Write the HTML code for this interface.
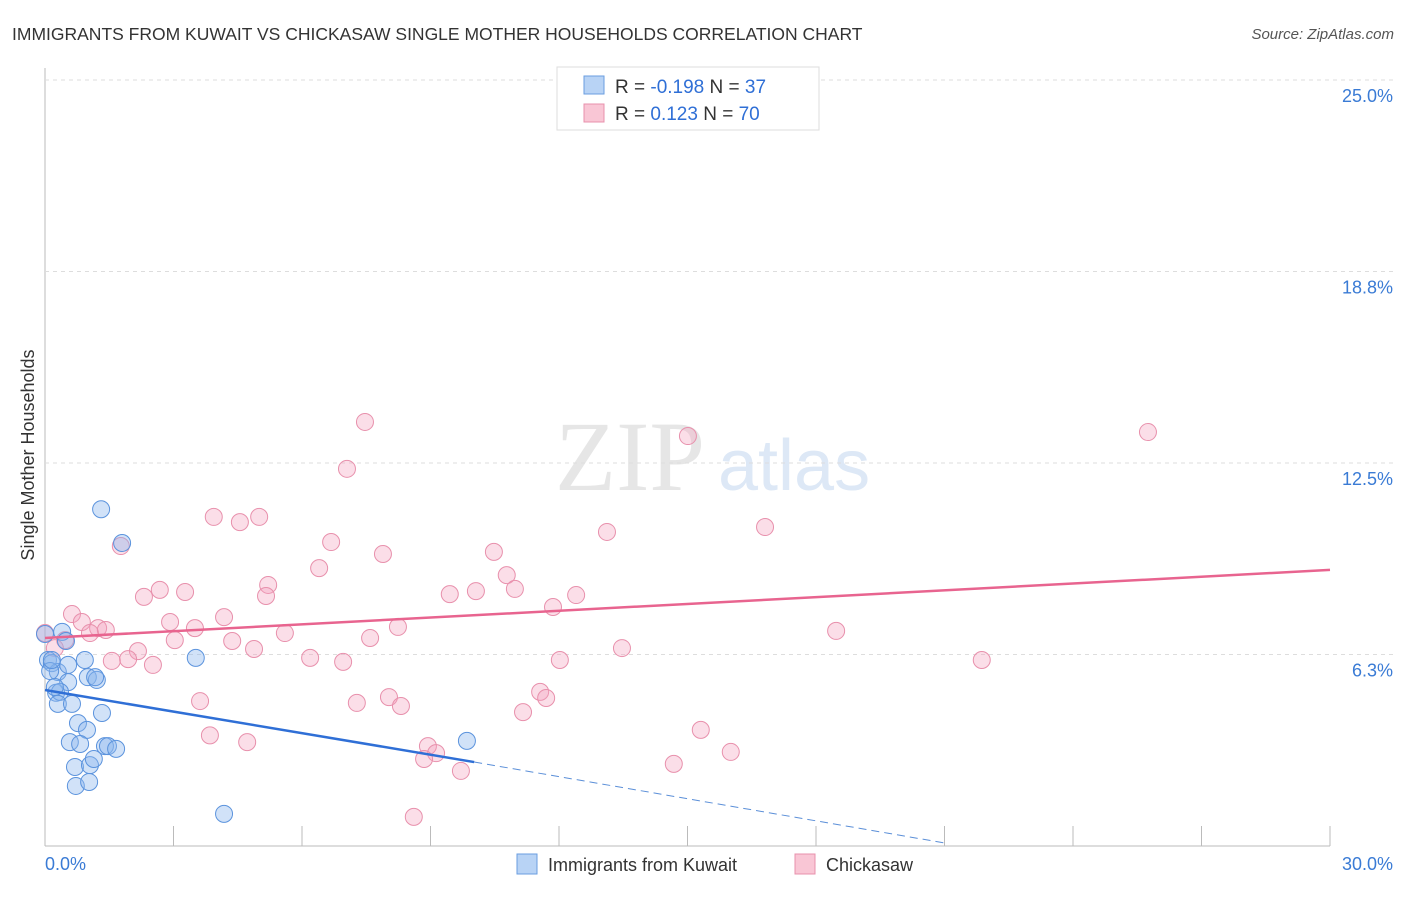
<!DOCTYPE html>
<html><head><meta charset="utf-8"><style>
body{margin:0;background:#fff;font-family:"Liberation Sans",sans-serif}
</style></head><body>
<svg id="c" width="1406" height="892" xmlns="http://www.w3.org/2000/svg">
<text x="12" y="40" font-size="17.5" fill="#333">IMMIGRANTS FROM KUWAIT VS CHICKASAW SINGLE MOTHER HOUSEHOLDS CORRELATION CHART</text>
<text x="1394" y="39" font-size="15" fill="#555" font-style="italic" text-anchor="end">Source: ZipAtlas.com</text>
<text x="555" y="490" font-size="100" fill="#e6e6e6" font-family="Liberation Serif">ZIP</text>
<text x="718" y="490" font-size="72" fill="#dde8f6">atlas</text>
<text transform="translate(34,455) rotate(-90)" font-size="18" fill="#333" text-anchor="middle">Single Mother Households</text>
<g id="grid"></g><g id="pts"></g><g id="lines"></g>
<g>
<rect x="557" y="67" width="262" height="63" fill="#fff" stroke="#ddd"/>
<rect x="584" y="76" width="20" height="18" fill="#b8d3f5" stroke="#6a9ee0"/>
<rect x="584" y="104" width="20" height="18" fill="#f9c6d5" stroke="#e890ac"/>
<text x="615" y="93" font-size="19" fill="#333">R = <tspan fill="#2f6fd6">-0.198</tspan>   N = <tspan fill="#2f6fd6">37</tspan></text>
<text x="615" y="120" font-size="19" fill="#333">R =  <tspan fill="#2f6fd6"> 0.123</tspan>   N = <tspan fill="#2f6fd6">70</tspan></text>
</g>
<g>
<rect x="517" y="854" width="20" height="20" fill="#b8d3f5" stroke="#6a9ee0"/>
<text x="548" y="871" font-size="18" fill="#333">Immigrants from Kuwait</text>
<rect x="795" y="854" width="20" height="20" fill="#f9c6d5" stroke="#e890ac"/>
<text x="826" y="871" font-size="18" fill="#333">Chickasaw</text>
</g>
</svg>
<script>
const yTicks=[6.25,12.5,18.75,25];
const yTickLabels=["6.3%","12.5%","18.8%","25.0%"];
const xTickLabels=["0.0%","30.0%"];
const blueX=[1.31,1.80,3.52,9.85,4.18,0.07,0.16,0.30,0.40,0.49,0.54,0.54,0.93,1.00,1.21,1.17,0.26,0.35,0.30,0.63,1.33,0.77,0.98,0.58,0.82,1.40,1.47,1.66,0.70,1.05,1.14,0.72,1.03,0.12,0.23,0.00,0.16];
const blueY=[10.99,9.89,6.14,3.43,1.05,6.07,5.97,5.68,6.99,6.69,5.91,5.35,6.07,5.51,5.42,5.51,5.00,5.03,4.64,4.64,4.34,4.01,3.79,3.39,3.33,3.26,3.26,3.17,2.58,2.64,2.84,1.96,2.09,5.71,5.19,6.92,6.07];
const pinkX=[13.33,7.47,15.01,25.75,7.05,3.94,4.55,5.00,13.12,16.81,1.77,6.68,7.89,10.48,6.40,10.78,5.21,5.16,2.68,3.27,2.31,9.45,10.06,10.97,12.40,11.86,0.63,0.86,2.92,4.18,1.24,1.05,1.42,3.50,8.24,18.47,5.60,0.47,3.03,4.37,7.59,13.47,2.17,4.88,1.94,1.56,2.52,6.19,6.96,12.02,21.87,3.62,7.28,8.03,8.31,11.56,11.70,11.16,3.85,4.72,15.31,16.01,8.94,9.13,8.85,9.71,14.68,8.61,0.00,0.23];
const pinkY=[23.76,13.84,13.38,13.51,12.31,10.74,10.57,10.74,10.25,10.41,9.79,9.92,9.53,9.60,9.07,8.84,8.52,8.16,8.36,8.29,8.13,8.22,8.32,8.39,8.19,7.80,7.57,7.31,7.31,7.47,7.11,6.95,7.05,7.11,7.15,7.02,6.95,6.72,6.72,6.69,6.79,6.46,6.36,6.43,6.10,6.04,5.91,6.14,6.01,6.07,6.07,4.73,4.67,4.86,4.57,5.03,4.83,4.37,3.61,3.39,3.79,3.07,3.26,3.03,2.84,2.45,2.68,0.95,6.95,6.46];
const pinkTrendX=[0,30], pinkTrendY=[6.79,9.01];
const blueTrendX=[0,10.02], blueTrendY=[5.09,2.74];
const blueDashX=[10.02,21.0], blueDashY=[2.74,0.1];
const NS="http://www.w3.org/2000/svg";
const X=v=>45+v/30*1285, Y=v=>846-v*30.64;
function mk(tag,attrs,parent){const e=document.createElementNS(NS,tag);for(const k in attrs)e.setAttribute(k,attrs[k]);parent.appendChild(e);return e;}
const grid=document.getElementById('grid'),pts=document.getElementById('pts'),lines=document.getElementById('lines');
let ax=mk('line',{x1:45,y1:68,x2:45,y2:846,stroke:'#bbb'},grid);


let bx=mk('line',{x1:45,y1:846,x2:1330,y2:846,stroke:'#bbb'},grid);


yTicks.forEach((t,i)=>{
 const g=mk('line',{x1:45,y1:Y(t),x2:1395,y2:Y(t),stroke:'#ddd','stroke-dasharray':'4,4'},grid);
 
 
 const l=mk('text',{x:1393,y:Y(t)+22,'font-size':18,fill:'#3a7bd5','text-anchor':'end'},grid);
 l.textContent=yTickLabels[i];
 
 
});
for(let i=1;i<=10;i++){const x=X(i*3);const t=mk('line',{x1:x,y1:826,x2:x,y2:846,stroke:'#bbb'},grid);
 
 }
xTickLabels.forEach((s,i)=>{const l=mk('text',{x:i?1393:45,y:870,'font-size':18,fill:'#3a7bd5','text-anchor':i?'end':'start'},grid);
 l.textContent=s;
 
 });
pinkX.forEach((v,i)=>{const c=mk('circle',{cx:X(v),cy:Y(pinkY[i]),r:8.5,fill:'rgba(244,160,188,0.35)',stroke:'#e890ac','stroke-width':1},pts);
 
 });
blueX.forEach((v,i)=>{const c=mk('circle',{cx:X(v),cy:Y(blueY[i]),r:8.5,fill:'rgba(140,182,238,0.4)',stroke:'#5b93dd','stroke-width':1},pts);
 
 });
let pl=mk('line',{x1:X(pinkTrendX[0]),y1:Y(pinkTrendY[0]),x2:X(pinkTrendX[1]),y2:Y(pinkTrendY[1]),stroke:'#e8648f','stroke-width':2.5},lines);


let bl=mk('line',{x1:X(blueTrendX[0]),y1:Y(blueTrendY[0]),x2:X(blueTrendX[1]),y2:Y(blueTrendY[1]),stroke:'#2f6fd6','stroke-width':2.5},lines);


let bd=mk('line',{x1:X(blueDashX[0]),y1:Y(blueDashY[0]),x2:X(blueDashX[1]),y2:Y(blueDashY[1]),stroke:'#5b8fd8','stroke-width':1,'stroke-dasharray':'8,5'},lines);


</script>
</body></html>
